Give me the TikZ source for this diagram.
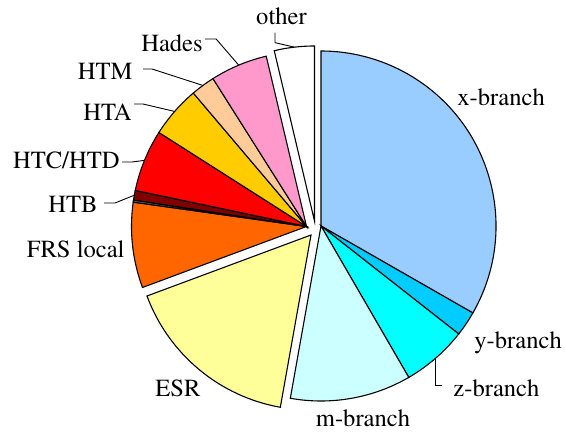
\documentclass[tikz,border=0pt]{standalone}
\usepackage[T1]{fontenc}
\usepackage{mathptmx}
\usepackage{xcolor}
\usetikzlibrary{calc}

\definecolor{xbranch}{HTML}{99CCFF}
\definecolor{ybranch}{HTML}{00CCFF}
\definecolor{zbranch}{HTML}{00FFFF}
\definecolor{mbranch}{HTML}{CCFFFF}
\definecolor{esr}{HTML}{FFFF99}
\definecolor{frslocal}{HTML}{FF6600}
\definecolor{htb}{HTML}{800000}
\definecolor{htc}{HTML}{FF0000}
\definecolor{hta}{HTML}{FFCC00}
\definecolor{htm}{HTML}{FFCC99}
\definecolor{hades}{HTML}{FF99CC}

% centre, start angle, end angle, fill
\newcommand{\pieslice}[4]{%
  \draw[slice,fill=#4] (#1) -- ++(#2:175) arc (#2:#3:175) -- cycle;}

\begin{document}
\begin{tikzpicture}[x=0.5pt,y=0.5pt,
    slice/.style={draw=black,line width=0.55pt,line join=miter},
    lbl/.style={font=\fontsize{12.3}{14}\selectfont,inner sep=0pt},
    leader/.style={line width=0.45pt}]
                    \useasboundingbox (0,0) rectangle (566,432);
                    % centres of the slice groups
                    \coordinate (cR) at (321,206);
                    \coordinate (cL) at (306.5,205.5);
                    \coordinate (cE) at (311,197);
                    \coordinate (cO) at (314.5,211);
                    % branches
                    \pieslice{cR}{-29.8}{90}{xbranch}
                    \pieslice{cR}{-38.1}{-29.8}{ybranch}
                    \pieslice{cR}{-59.9}{-38.1}{zbranch}
                    \pieslice{cR}{-100.1}{-59.9}{mbranch}
                    \pieslice{cE}{-159.6}{-100.1}{esr}
                    % remaining sources
                    \pieslice{cL}{172}{200.4}{frslocal}
                    \pieslice{cL}{171.3}{172}{black!60}
                    \pieslice{cL}{168.1}{171.3}{htb}
                    \pieslice{cL}{147.5}{168.1}{htc}
                    \pieslice{cL}{130.3}{147.5}{hta}
                    \pieslice{cL}{122.3}{130.3}{htm}
                    \pieslice{cL}{103.3}{122.3}{hades}
                    \pieslice{cO}{90}{103.3}{white}
                    % labels
                    \node[lbl,anchor=base] (other) at (281.5,407) {other};
                    \node[lbl,anchor=base] (hadeslbl) at (172,380) {Hades};
                    \node[lbl,anchor=base east] (htmlbl) at (133,352) {HTM};
                    \node[lbl,anchor=base east] (htalbl) at (132,311) {HTA};
                    \node[lbl,anchor=base east] (htclbl) at (120,263) {HTC/HTD};
                    \node[lbl,anchor=base east] (htblbl) at (98,219) {HTB};
                    \node[lbl,anchor=base east] (frslbl) at (125,174) {FRS local};
                    \node[lbl,anchor=base] (esrlbl) at (178,35) {ESR};
                    \node[lbl,anchor=base] (mlbl) at (363,5) {m-branch};
                    \node[lbl,anchor=base west] (zlbl) at (453,35) {z-branch};
                    \node[lbl,anchor=base west] (ylbl) at (474,83) {y-branch};
                    \node[lbl,anchor=base west] (xlbl) at (457,326) {x-branch};
                    % leader lines
                    \draw[leader] (other.south) ++(-6.5,-7) -- ++(0,-10) -- ($(cO)+(96.6:175)$);
                    \draw[leader] (hadeslbl.base east) ++(2,13) -- ++(11,0) -- ($(cL)+(112.8:175)$);
                    \draw[leader] (htmlbl.base east) ++(10,11) -- ++(9,0) -- ($(cL)+(126.3:175)$);
                    \draw[leader] (htalbl.base east) ++(2,17) -- ++(9,0) -- ($(cL)+(138.9:175)$);
                    \draw[leader] (htclbl.base east) ++(2,7) -- ++(10,0) -- ($(cL)+(157.8:175)$);
                    \draw[leader] (htblbl.base east) ++(6,10) -- ++(11,0) -- ($(cL)+(169.7:175)$);
                    \draw[leader] ($(cR)+(-49:175)$) |- ($(zlbl.base west)+(-11,12)$);
                \end{tikzpicture}
\end{document}
